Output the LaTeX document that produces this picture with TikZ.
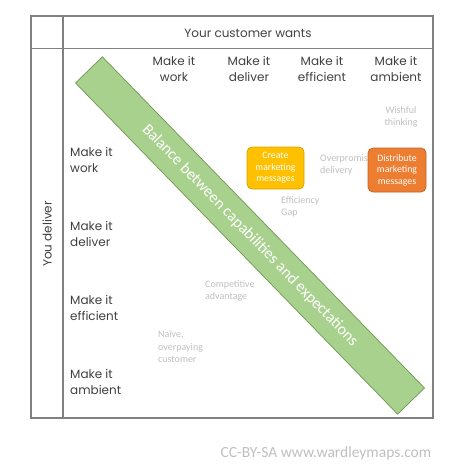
\documentclass[tikz,border=0pt]{standalone}
\usepackage{fontspec}
\setmainfont{Poppins}
\newfontfamily\calib{Carlito}
\definecolor{gridgray}{HTML}{808080}
\definecolor{labtext}{HTML}{404040}
\definecolor{softgray}{HTML}{BFBFBF}
\definecolor{bandfill}{HTML}{A9D18E}
\definecolor{bandline}{HTML}{6F9650}
\definecolor{ylwfill}{HTML}{FFC000}
\definecolor{ylwline}{HTML}{D9A300}
\definecolor{orgfill}{HTML}{ED7D31}
\definecolor{orgline}{HTML}{C0622A}
\begin{document}
\begin{tikzpicture}[x=1pt,y=-1pt,
  hdr/.style={text=labtext,font=\fontsize{12}{15.5}\selectfont,align=center,inner sep=0pt},
  rowlab/.style={text=labtext,font=\fontsize{12}{15.5}\selectfont,align=left,anchor=west,inner sep=0pt},
  note/.style={text=softgray,font=\calib\fontsize{10}{12.3}\selectfont,align=left,anchor=west,inner sep=0pt},
  card/.style={rounded corners=5pt,line width=0.8pt,text=white,font=\calib\fontsize{9.8}{11.5}\selectfont,align=center,inner sep=0pt}
]
\useasboundingbox (0,0) rectangle (474,469);
% grid
\draw[gridgray,line width=1.2pt] (31,16) rectangle (433,418);
\draw[gridgray,line width=1.2pt] (63,16) -- (63,418);
\draw[gridgray,line width=1.2pt] (31,48.5) -- (433,48.5);
% headers
\node[hdr] (top) at (248,33) {Your customer wants};
\node[hdr,rotate=90] (side) at (47,234) {You deliver};
\node[hdr] (c1) at (174,69) {Make it\\work};
\node[hdr] (c2) at (249,69) {Make it\\deliver};
\node[hdr] (c3) at (322,69) {Make it\\efficient};
\node[hdr] (c4) at (396,69) {Make it\\ambient};
\node[rowlab] (r1) at (70,160) {Make it\\work};
\node[rowlab] (r2) at (70,234) {Make it\\deliver};
\node[rowlab] (r3) at (70,308) {Make it\\efficient};
\node[rowlab] (r4) at (70,382) {Make it\\ambient};
% band
\node[draw=bandline,fill=bandfill,line width=0.7pt,rotate=-45.8,minimum width=462pt,minimum height=37.5pt,inner sep=0pt,text=white,font=\calib\fontsize{16}{18}\selectfont] (band) at (250,235.5) {Balance between capabilities and expectations};
% notes
\node[note,anchor=center,align=center] (n1) at (401,117) {Wishful\\thinking};
\node[note] (n2) at (320,165) {Overpromise\\delivery};
\node[note] (n3) at (281,206.5) {Efficiency\\Gap};
\node[note] (n4) at (205,291) {Competitive\\advantage};
\node[note] (n5) at (158,347) {Naïve,\\overpaying\\customer};
% cards
\node[card,draw=ylwline,fill=ylwfill,minimum width=57pt,minimum height=42pt] (k1) at (275.5,168) {Create\\marketing\\messages};
\node[card,draw=orgline,fill=orgfill,minimum width=58pt,minimum height=44pt] (k2) at (397,170) {Distribute\\marketing\\messages};
% footer
\node[text=softgray,font=\calib\fontsize{15.5}{17}\selectfont,inner sep=0pt] (foot) at (326,453) {CC-BY-SA www.wardleymaps.com};
\end{tikzpicture}
\end{document}
